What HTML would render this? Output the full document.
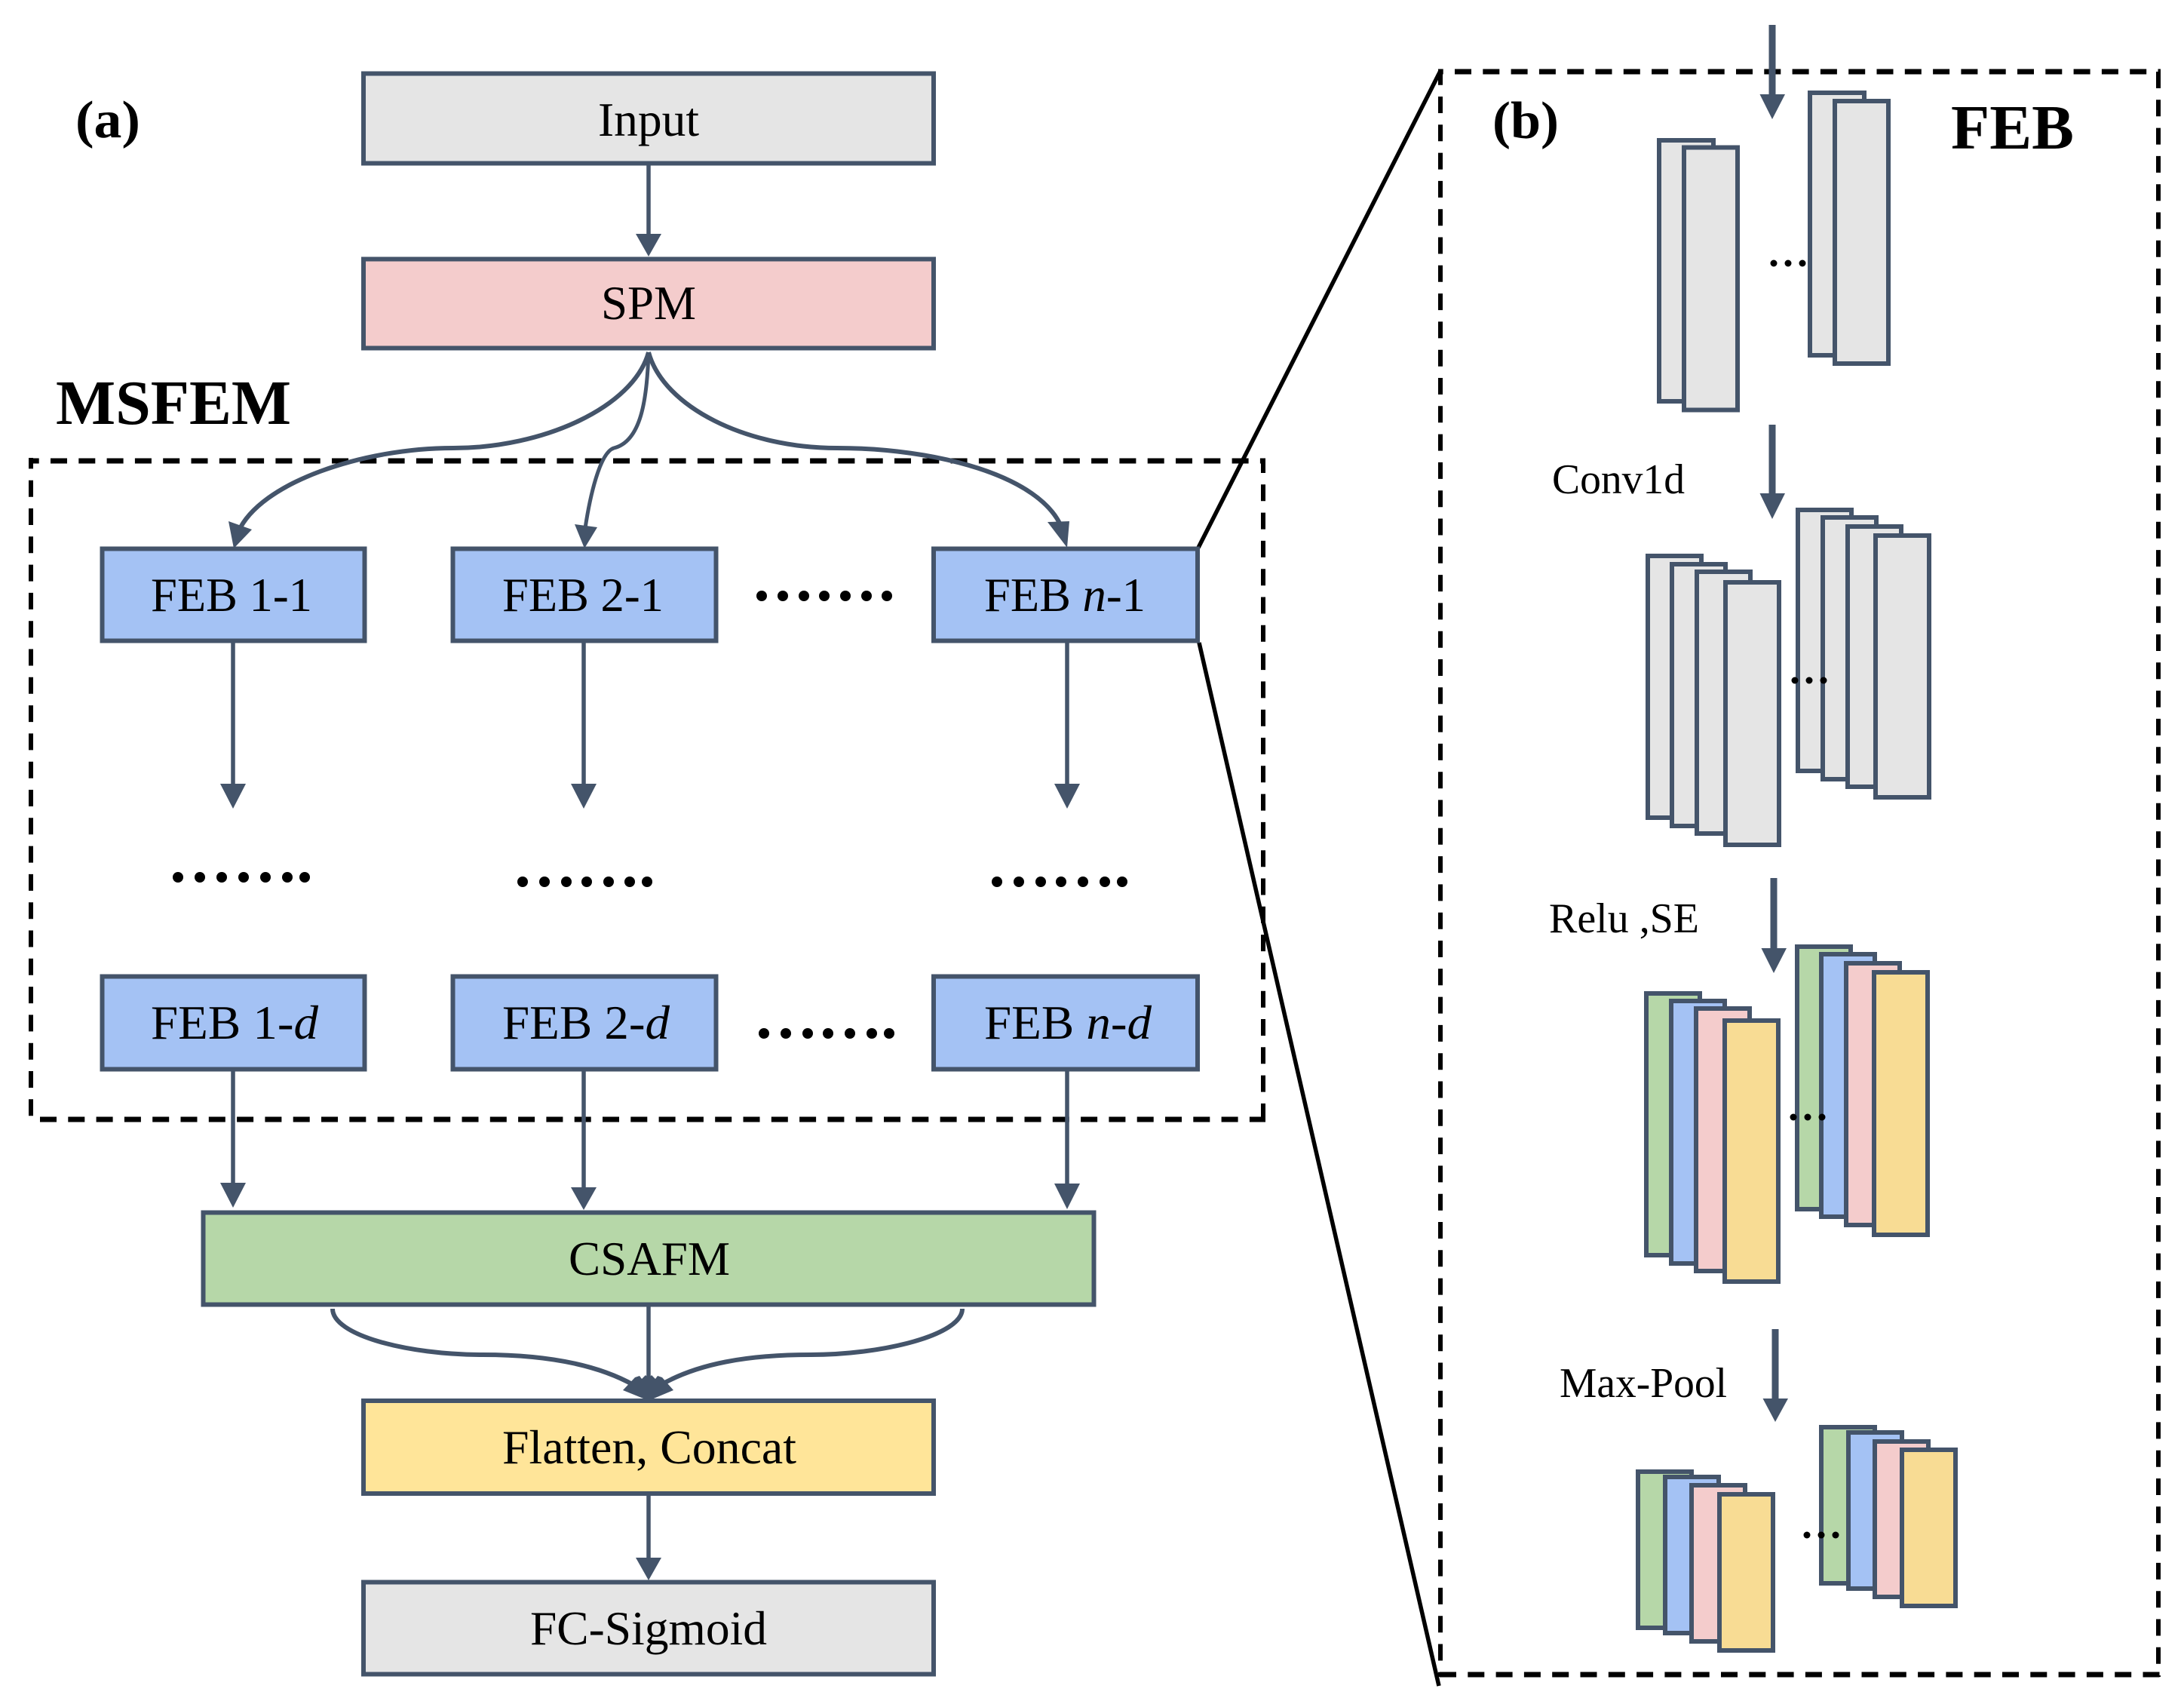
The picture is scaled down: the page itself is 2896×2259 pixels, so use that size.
<!DOCTYPE html>
<html>
<head>
<meta charset="utf-8">
<title>Diagram</title>
<style>
html,body{margin:0;padding:0;background:#fff;width:2896px;height:2259px;overflow:hidden}
svg{display:block}
text{font-family:"Liberation Serif",serif;fill:#000}
.m{font-size:63px}
.l{font-size:56px}
.b{font-weight:bold}
.r rect{stroke:#44546a;stroke-width:6}
.s rect{stroke:#44546a;stroke-width:6}
.gr{fill:#e5e5e5}.pk{fill:#f4cccc}.bl{fill:#a4c2f4}.gn{fill:#b6d7a8}.ye{fill:#ffe599}.yd{fill:#f8dc94}
.ln{stroke:#44546a;fill:none}
.hd{fill:#44546a;stroke:none}
.dh{fill:none;stroke:#000;stroke-width:7;stroke-dasharray:22 15.3}
.dv{fill:none;stroke:#000;stroke-width:6;stroke-dasharray:22 15.3}
</style>
</head>
<body>
<svg xmlns="http://www.w3.org/2000/svg" width="2896" height="2259" viewBox="0 0 2896 2259">
<rect width="2896" height="2259" fill="#fff"/>

<!-- callout lines -->
<line x1="1589" y1="726" x2="1910" y2="94" stroke="#000" stroke-width="5.5"/>
<line x1="1590" y1="852" x2="1908" y2="2235" stroke="#000" stroke-width="5.5"/>

<!-- dashed frame a -->
<line class="dh" x1="38" y1="611" x2="1678" y2="611" stroke-dashoffset="8.3"/>
<line class="dh" x1="53" y1="1484" x2="1678" y2="1484"/>
<line class="dv" x1="41" y1="607" x2="41" y2="1487" stroke-dashoffset="7.6"/>
<line class="dv" x1="1675" y1="611" x2="1675" y2="1487" stroke-dashoffset="6"/>
<!-- dashed frame b -->
<line class="dh" x1="1907" y1="95" x2="2865" y2="95" stroke-dashoffset="15.3"/>
<line class="dh" x1="1909" y1="2220" x2="2865" y2="2220"/>
<line class="dv" x1="1910" y1="92" x2="1910" y2="2223" stroke-dashoffset="1.3"/>
<line class="dv" x1="2862" y1="95" x2="2862" y2="2223"/>

<!-- left connectors -->
<g class="ln" stroke-width="5.5">
<line x1="860" y1="219" x2="860" y2="315"/>
<line x1="309" y1="852" x2="309" y2="1045"/>
<line x1="774" y1="852" x2="774" y2="1045"/>
<line x1="1415" y1="852" x2="1415" y2="1045"/>
<line x1="309" y1="1420" x2="309" y2="1575"/>
<line x1="774" y1="1420" x2="774" y2="1580"/>
<line x1="1415" y1="1420" x2="1415" y2="1575"/>
<line x1="860" y1="1732" x2="860" y2="1830"/>
<line x1="860" y1="1983" x2="860" y2="2070"/>
</g>
<g class="ln" stroke-width="6">
<path d="M860,467 C840,540 720,594 601,594 C480,594 345,640 316,705"/>
<path d="M860,467 C858,530 850,585 814,594 C795,600 782,660 776,700" stroke-width="5"/>
<path d="M860,467 C880,540 990,594 1110,594 C1240,594 1380,630 1408,700"/>
<path d="M441,1735 C441,1770 540,1796 640,1796 C720,1796 790,1808 840,1836"/>
<path d="M1276,1735 C1276,1770 1170,1796 1075,1796 C990,1796 925,1808 876,1836"/>
</g>
<g class="hd">
<polygon points="843,310 877,310 860,340"/>
<polygon points="292,1039 326,1039 309,1072"/>
<polygon points="757,1039 791,1039 774,1072"/>
<polygon points="1398,1039 1432,1039 1415,1072"/>
<polygon points="292,1568 326,1568 309,1601"/>
<polygon points="757,1574 791,1574 774,1604"/>
<polygon points="1398,1569 1432,1569 1415,1603"/>
<polygon points="843,2065 877,2065 860,2095"/>
<polygon points="303,691 334,702 310,727"/>
<polygon points="762,695 792,699 775,727"/>
<polygon points="1389,692 1418,691 1415,726"/>
<polygon points="826,1843 842,1826 848,1824 851,1828 856,1823 860,1827 864,1823 869,1828 872,1824 878,1826 893,1843 862,1856 858,1856"/>
</g>

<!-- main boxes -->
<g class="r">
<rect class="gr" x="482" y="97.5" width="756" height="119"/>
<rect class="pk" x="482" y="343.5" width="756" height="118"/>
<rect class="bl" x="135.5" y="727.5" width="348" height="122"/>
<rect class="bl" x="600.5" y="727.5" width="349" height="122"/>
<rect class="bl" x="1238" y="727.5" width="350" height="122"/>
<rect class="bl" x="135.5" y="1294.5" width="348" height="123"/>
<rect class="bl" x="600.5" y="1294.5" width="349" height="123"/>
<rect class="bl" x="1238" y="1294.5" width="350" height="123"/>
<rect class="gn" x="269.5" y="1607.5" width="1181" height="122"/>
<rect class="ye" x="482" y="1857" width="756" height="123"/>
<rect class="gr" x="482" y="2097.5" width="756" height="122"/>
</g>

<!-- main labels -->
<g class="m">
<text x="793" y="180" textLength="134" lengthAdjust="spacingAndGlyphs">Input</text>
<text x="797" y="423" textLength="126" lengthAdjust="spacingAndGlyphs">SPM</text>
<text x="200" y="810" textLength="214" lengthAdjust="spacingAndGlyphs">FEB 1-1</text>
<text x="666" y="810" textLength="214" lengthAdjust="spacingAndGlyphs">FEB 2-1</text>
<text x="1305" y="810" textLength="214" lengthAdjust="spacingAndGlyphs">FEB <tspan font-style="italic">n</tspan>-1</text>
<text x="200" y="1377" textLength="222" lengthAdjust="spacingAndGlyphs">FEB 1-<tspan font-style="italic">d</tspan></text>
<text x="666" y="1377" textLength="222" lengthAdjust="spacingAndGlyphs">FEB 2-<tspan font-style="italic">d</tspan></text>
<text x="1305" y="1377" textLength="222" lengthAdjust="spacingAndGlyphs">FEB <tspan font-style="italic">n</tspan>-<tspan font-style="italic">d</tspan></text>
<text x="754" y="1690" textLength="214" lengthAdjust="spacingAndGlyphs">CSAFM</text>
<text x="666" y="1940" textLength="390" lengthAdjust="spacingAndGlyphs">Flatten, Concat</text>
<text x="703" y="2180" textLength="314" lengthAdjust="spacingAndGlyphs">FC-Sigmoid</text>
</g>
<text class="b" x="100" y="182" font-size="70" textLength="86" lengthAdjust="spacingAndGlyphs">(a)</text>
<text class="b" x="74" y="562" font-size="84" textLength="312" lengthAdjust="spacingAndGlyphs">MSFEM</text>
<text class="b" x="1979" y="183" font-size="70" textLength="88" lengthAdjust="spacingAndGlyphs">(b)</text>
<text class="b" x="2587" y="197" font-size="84" textLength="163" lengthAdjust="spacingAndGlyphs">FEB</text>

<!-- dots left -->
<g fill="#000">
<circle cx="1010" cy="790" r="7"/><circle cx="1038" cy="790" r="7"/><circle cx="1066" cy="790" r="7"/><circle cx="1093" cy="790" r="7"/><circle cx="1121" cy="790" r="7"/><circle cx="1149" cy="790" r="7"/><circle cx="1176" cy="790" r="7"/>
<circle cx="236" cy="1163" r="7"/><circle cx="265" cy="1163" r="7"/><circle cx="294" cy="1163" r="7"/><circle cx="323" cy="1163" r="7"/><circle cx="352" cy="1163" r="7"/><circle cx="381" cy="1163" r="7"/><circle cx="404" cy="1163" r="7"/>
<circle cx="693" cy="1169" r="7"/><circle cx="722" cy="1169" r="7"/><circle cx="751" cy="1169" r="7"/><circle cx="778" cy="1169" r="7"/><circle cx="807" cy="1169" r="7"/><circle cx="835" cy="1169" r="7"/><circle cx="858" cy="1169" r="7"/>
<circle cx="1322" cy="1169" r="7"/><circle cx="1351" cy="1169" r="7"/><circle cx="1380" cy="1169" r="7"/><circle cx="1407" cy="1169" r="7"/><circle cx="1436" cy="1169" r="7"/><circle cx="1465" cy="1169" r="7"/><circle cx="1488" cy="1169" r="7"/>
<circle cx="1013" cy="1370" r="7"/><circle cx="1042" cy="1370" r="7"/><circle cx="1071" cy="1370" r="7"/><circle cx="1098" cy="1370" r="7"/><circle cx="1127" cy="1370" r="7"/><circle cx="1156" cy="1370" r="7"/><circle cx="1179" cy="1370" r="7"/>
</g>

<!-- right arrows -->
<g class="ln" stroke-width="9">
<line x1="2350" y1="33" x2="2350" y2="130"/>
<line x1="2350" y1="563" x2="2350" y2="660"/>
<line x1="2352" y1="1164" x2="2352" y2="1262"/>
<line x1="2354" y1="1762" x2="2354" y2="1860"/>
</g>
<g class="hd">
<polygon points="2333.5,125 2367,125 2350,158"/>
<polygon points="2333.5,654 2367,654 2350,688"/>
<polygon points="2335.5,1257 2369,1257 2352,1290"/>
<polygon points="2337.5,1854 2371,1854 2354,1885"/>
</g>

<!-- right stacks -->
<g class="s">
<rect class="gr" x="2200" y="186" width="72" height="346"/>
<rect class="gr" x="2233" y="195.5" width="71" height="348"/>
<rect class="gr" x="2400" y="123" width="72" height="348"/>
<rect class="gr" x="2433" y="134" width="71" height="348"/>

<rect class="gr" x="2185" y="737" width="71" height="347"/>
<rect class="gr" x="2217" y="748" width="71" height="347"/>
<rect class="gr" x="2250" y="758" width="71" height="347"/>
<rect class="gr" x="2288" y="772" width="71" height="348"/>

<rect class="gr" x="2384" y="676" width="71" height="346"/>
<rect class="gr" x="2417" y="686" width="71" height="347"/>
<rect class="gr" x="2450" y="698" width="71" height="345"/>
<rect class="gr" x="2487" y="710" width="71" height="347"/>

<rect class="gn" x="2183" y="1317" width="71" height="347"/>
<rect class="bl" x="2216" y="1327" width="71" height="348"/>
<rect class="pk" x="2249" y="1337" width="71" height="348"/>
<rect class="yd" x="2287" y="1353" width="71" height="346"/>

<rect class="gn" x="2383" y="1255" width="71" height="348"/>
<rect class="bl" x="2415" y="1265" width="71" height="348"/>
<rect class="pk" x="2448" y="1277" width="71" height="347"/>
<rect class="yd" x="2485" y="1289" width="71" height="348"/>

<rect class="gn" x="2172" y="1951" width="71" height="207"/>
<rect class="bl" x="2208" y="1958" width="71" height="207"/>
<rect class="pk" x="2243" y="1969" width="71" height="207"/>
<rect class="yd" x="2280" y="1981" width="71" height="207"/>

<rect class="gn" x="2415" y="1892" width="71" height="207"/>
<rect class="bl" x="2451" y="1899" width="71" height="207"/>
<rect class="pk" x="2486" y="1911" width="71" height="206"/>
<rect class="yd" x="2522" y="1922" width="71" height="207"/>
</g>

<!-- right dots -->
<g fill="#000">
<circle cx="2352" cy="349" r="4.5"/><circle cx="2371" cy="349" r="4.5"/><circle cx="2390" cy="349" r="4.5"/>
<circle cx="2380" cy="902" r="4.5"/><circle cx="2399" cy="902" r="4.5"/><circle cx="2418" cy="902" r="4.5"/>
<circle cx="2378" cy="1481" r="4.5"/><circle cx="2397" cy="1481" r="4.5"/><circle cx="2416" cy="1481" r="4.5"/>
<circle cx="2396" cy="2035" r="4.5"/><circle cx="2415" cy="2035" r="4.5"/><circle cx="2434" cy="2035" r="4.5"/>
</g>

<!-- right labels -->
<g class="l">
<text x="2058" y="654" textLength="176" lengthAdjust="spacingAndGlyphs">Conv1d</text>
<text x="2054" y="1236" textLength="199" lengthAdjust="spacingAndGlyphs">Relu ,SE</text>
<text x="2068" y="1852" textLength="222" lengthAdjust="spacingAndGlyphs">Max-Pool</text>
</g>
</svg>
</body>
</html>
